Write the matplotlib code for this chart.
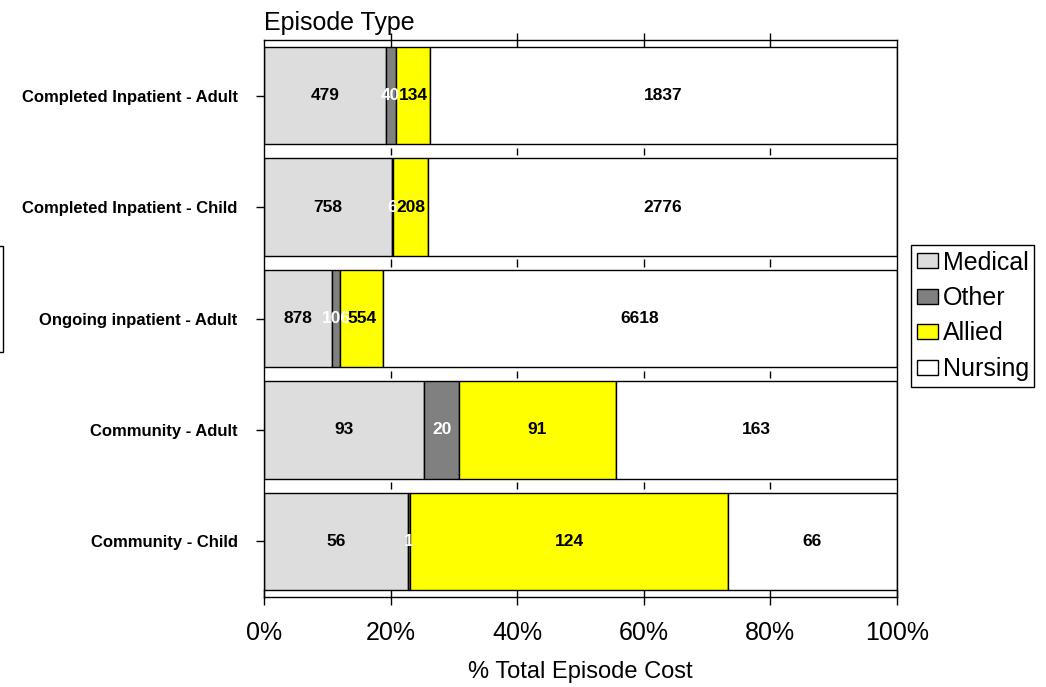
import numpy as np
import matplotlib
matplotlib.use('Agg')
import matplotlib.pyplot as plt
from matplotlib.patches import Rectangle

plt.rcParams['font.family'] = ['Liberation Sans', 'DejaVu Sans']

# episode types, top to bottom
episodes = ['Completed Inpatient - Adult', 'Completed Inpatient - Child',
            'Ongoing inpatient - Adult', 'Community - Adult', 'Community - Child']
# cost components (counts shown as labels, bars are % of row total)
medical = [479, 758, 878, 93, 56]
other = [40, 6, 106, 20, 1]
allied = [134, 208, 554, 91, 124]
nursing = [1837, 2776, 6618, 163, 66]

series = ['Medical', 'Other', 'Allied', 'Nursing']
colors = ['#DDDDDD', '#808080', '#FFFF00', '#FFFFFF']
text_colors = ['black', 'white', 'black', 'black']

data = np.array([medical, other, allied, nursing], dtype=float)
totals = data.sum(axis=0)
pct = data / totals * 100

fig = plt.figure(figsize=(10.46, 6.87), dpi=100)
ax = fig.add_axes([264/1046, 1-597/687, (897-264)/1046, (597-40)/687])

y = np.arange(len(episodes))
barh = 0.875
left = np.zeros(len(episodes))
for k in range(len(series)):
    ax.barh(y, pct[k], left=left, height=barh, color=colors[k],
            edgecolor='black', linewidth=1.0, label=series[k], zorder=2)
    for i in range(len(episodes)):
        ax.text(left[i] + pct[k][i] / 2, y[i], '%d' % data[k][i],
                ha='center', va='center', fontsize=12.5, fontweight='bold',
                color=text_colors[k], zorder=3)
    left = left + pct[k]

ax.set_xlim(0, 100)
ax.set_ylim(len(episodes) - 0.5, -0.5)
xt = [0, 20, 40, 60, 80, 100]
ax.set_xticks(xt)
ax.set_xticklabels(['%d%%' % v for v in xt], fontsize=18)
ax.set_yticks(y)
ax.set_yticklabels(episodes, fontsize=12, fontweight='bold')
ax.tick_params(axis='x', direction='inout', length=12, width=1, pad=11)
ax.tick_params(axis='y', direction='out', length=6, width=1, pad=13)

# short tick marks in the gaps between bars and along the top edge
for g in range(len(episodes) - 1):
    ax.vlines(xt[1:-1], g + 0.5 - 0.03, g + 0.5 + 0.035, color='black',
              linewidth=1, zorder=1)
ax.vlines(xt[1:-1], -0.5 - 0.06, -0.5 + 0.06, color='black',
          linewidth=1, zorder=1, clip_on=False)

for s in ax.spines.values():
    s.set_linewidth(1)

ax.set_xlabel('% Total Episode Cost', fontsize=17, labelpad=12)
ax.set_title('Episode Type', fontsize=18, loc='left', pad=7)

ax.legend(loc='upper left', bbox_to_anchor=(911/1046, 1-245/687),
          bbox_transform=fig.transFigure, fontsize=18, frameon=True,
          fancybox=False, edgecolor='black', framealpha=1,
          handlelength=0.85, handleheight=0.55, handletextpad=0.2,
          labelspacing=0.46, borderpad=0.22, borderaxespad=0)

# clipped box at the far left edge
fig.patches.append(Rectangle((-0.1, 1-352/687), 0.1 + 3/1046, 106/687,
                             transform=fig.transFigure, fill=False,
                             edgecolor='black', linewidth=1))

fig.savefig('out.png', dpi=100)
